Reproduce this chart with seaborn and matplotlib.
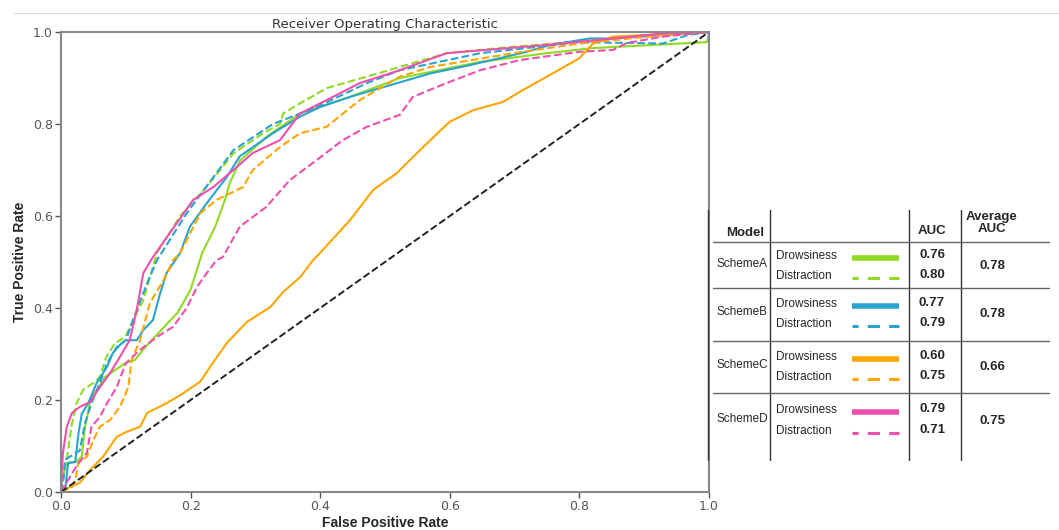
import numpy as np
import seaborn as sns
from matplotlib import pyplot as plt
from matplotlib.lines import Line2D

# ROC points (fpr, tpr)
a_drow_fpr = [0, 0.001, 0.009, 0.024, 0.032, 0.037, 0.04, 0.045, 0.068, 0.099, 0.114, 0.13, 0.16, 0.18, 0.20, 0.218, 0.238, 0.253, 0.26, 0.276, 0.317, 0.369, 0.446, 0.523, 0.647, 0.75, 0.82, 0.997, 1.0]
a_drow_tpr = [0, 0.026, 0.063, 0.066, 0.077, 0.142, 0.16, 0.2, 0.25, 0.28, 0.287, 0.315, 0.36, 0.39, 0.44, 0.52, 0.577, 0.635, 0.67, 0.72, 0.772, 0.823, 0.859, 0.90, 0.935, 0.954, 0.965, 0.978, 1.0]
a_dist_fpr = [0, 0.002, 0.009, 0.016, 0.024, 0.034, 0.05, 0.06, 0.07, 0.083, 0.099, 0.111, 0.127, 0.142, 0.148, 0.184, 0.225, 0.266, 0.312, 0.338, 0.343, 0.369, 0.41, 0.472, 0.523, 0.595, 0.698, 0.85, 0.944, 1.0]
a_dist_tpr = [0, 0.02, 0.07, 0.142, 0.193, 0.222, 0.237, 0.25, 0.294, 0.323, 0.337, 0.373, 0.417, 0.49, 0.52, 0.60, 0.664, 0.736, 0.78, 0.80, 0.823, 0.845, 0.878, 0.903, 0.924, 0.954, 0.968, 0.985, 0.997, 1.0]
b_drow_fpr = [0, 0.006, 0.011, 0.022, 0.027, 0.032, 0.042, 0.055, 0.071, 0.08, 0.091, 0.10, 0.117, 0.127, 0.142, 0.153, 0.163, 0.184, 0.199, 0.225, 0.256, 0.276, 0.327, 0.369, 0.40, 0.446, 0.497, 0.57, 0.631, 0.719, 0.755, 0.816, 0.852, 1.0]
b_drow_tpr = [0, 0.0, 0.063, 0.065, 0.128, 0.17, 0.193, 0.237, 0.272, 0.302, 0.32, 0.33, 0.33, 0.352, 0.374, 0.432, 0.476, 0.52, 0.577, 0.628, 0.685, 0.73, 0.78, 0.816, 0.837, 0.859, 0.88, 0.91, 0.928, 0.957, 0.972, 0.986, 0.986, 1.0]
b_dist_fpr = [0, 0.004, 0.006, 0.014, 0.029, 0.037, 0.047, 0.06, 0.071, 0.086, 0.10, 0.117, 0.133, 0.148, 0.194, 0.266, 0.327, 0.395, 0.472, 0.523, 0.647, 0.80, 0.929, 0.966, 1.0]
b_dist_tpr = [0, 0.03, 0.07, 0.077, 0.09, 0.149, 0.193, 0.237, 0.28, 0.315, 0.33, 0.396, 0.454, 0.504, 0.606, 0.743, 0.80, 0.837, 0.889, 0.917, 0.954, 0.978, 0.975, 0.993, 1.0]
c_drow_fpr = [0, 0.014, 0.029, 0.045, 0.065, 0.086, 0.10, 0.122, 0.133, 0.163, 0.189, 0.215, 0.23, 0.256, 0.287, 0.323, 0.343, 0.369, 0.389, 0.40, 0.446, 0.482, 0.518, 0.543, 0.57, 0.60, 0.636, 0.682, 0.713, 0.75, 0.80, 0.821, 0.852, 1.0]
c_drow_tpr = [0, 0.011, 0.02, 0.048, 0.077, 0.12, 0.13, 0.142, 0.172, 0.193, 0.215, 0.24, 0.272, 0.324, 0.37, 0.402, 0.435, 0.467, 0.504, 0.52, 0.591, 0.657, 0.693, 0.728, 0.765, 0.805, 0.83, 0.848, 0.874, 0.903, 0.943, 0.975, 0.99, 1.0]
c_dist_fpr = [0, 0.017, 0.022, 0.027, 0.04, 0.05, 0.06, 0.076, 0.091, 0.104, 0.109, 0.122, 0.137, 0.158, 0.173, 0.184, 0.215, 0.24, 0.281, 0.296, 0.338, 0.369, 0.41, 0.461, 0.523, 0.57, 0.698, 0.80, 0.929, 1.0]
c_dist_tpr = [0, 0.011, 0.026, 0.063, 0.077, 0.113, 0.142, 0.157, 0.185, 0.228, 0.287, 0.33, 0.41, 0.46, 0.504, 0.52, 0.606, 0.635, 0.663, 0.70, 0.75, 0.78, 0.794, 0.852, 0.903, 0.924, 0.954, 0.975, 0.993, 1.0]
d_drow_fpr = [0, 0.001, 0.003, 0.009, 0.017, 0.029, 0.045, 0.06, 0.076, 0.091, 0.106, 0.117, 0.127, 0.142, 0.168, 0.204, 0.235, 0.266, 0.296, 0.338, 0.369, 0.41, 0.461, 0.523, 0.595, 0.75, 0.852, 0.929, 1.0]
d_drow_tpr = [0, 0.04, 0.085, 0.142, 0.172, 0.185, 0.196, 0.228, 0.259, 0.294, 0.33, 0.396, 0.476, 0.511, 0.563, 0.635, 0.663, 0.70, 0.737, 0.765, 0.823, 0.852, 0.889, 0.917, 0.954, 0.972, 0.986, 0.997, 1.0]
d_dist_fpr = [0, 0.017, 0.027, 0.04, 0.047, 0.06, 0.071, 0.086, 0.10, 0.122, 0.148, 0.173, 0.194, 0.21, 0.225, 0.24, 0.25, 0.276, 0.317, 0.353, 0.395, 0.435, 0.472, 0.523, 0.543, 0.595, 0.647, 0.708, 0.80, 0.852, 0.873, 0.929, 1.0]
d_dist_tpr = [0, 0.04, 0.063, 0.085, 0.142, 0.163, 0.193, 0.228, 0.28, 0.309, 0.337, 0.359, 0.40, 0.446, 0.476, 0.504, 0.511, 0.577, 0.62, 0.678, 0.722, 0.765, 0.794, 0.82, 0.859, 0.889, 0.917, 0.939, 0.957, 0.961, 0.976, 0.99, 1.0]

schemes = ["SchemeA", "SchemeB", "SchemeC", "SchemeD"]
tasks = ["Drowsiness", "Distraction"]
auc = [[0.76, 0.80], [0.77, 0.79], [0.60, 0.75], [0.79, 0.71]]
avg_auc = [0.78, 0.78, 0.66, 0.75]
colors = ["#8fda22", "#29a4cf", "#ffa500", "#ef4fae"]

curves = [
    [(a_drow_fpr, a_drow_tpr), (a_dist_fpr, a_dist_tpr)],
    [(b_drow_fpr, b_drow_tpr), (b_dist_fpr, b_dist_tpr)],
    [(c_drow_fpr, c_drow_tpr), (c_dist_fpr, c_dist_tpr)],
    [(d_drow_fpr, d_drow_tpr), (d_dist_fpr, d_dist_tpr)],
]

sns.set_style("white")
fig = plt.figure(figsize=(10.59, 5.30), dpi=100)
ax = fig.add_axes([0.0576, 0.0717, 0.6119, 0.8679])

for i in range(4):
    for j, (fx, ty) in enumerate(curves[i]):
        sns.lineplot(x=fx, y=ty, ax=ax, color=colors[i], lw=1.5,
                     linestyle="-" if j == 0 else "--",
                     estimator=None, sort=False)
sns.lineplot(x=[0, 1], y=[0, 1], ax=ax, color="#222222", lw=1.4,
             linestyle="--", estimator=None, sort=False)

ax.set_xlim(0, 1)
ax.set_ylim(0, 1)
ax.set_xticks([0, 0.2, 0.4, 0.6, 0.8, 1.0])
ax.set_yticks([0, 0.2, 0.4, 0.6, 0.8, 1.0])
ax.tick_params(axis="both", labelsize=9, colors="#555555", length=4,
               width=1, direction="out", bottom=True, left=True, pad=2)
for s in ax.spines.values():
    s.set_color("#888888")
    s.set_linewidth(1.5)

ax.set_title("Receiver Operating Characteristic", fontsize=9.5, color="#333333", pad=3)
ax.set_xlabel("False Positive Rate", fontsize=10, fontweight="bold",
              family="Liberation Sans")
ax.set_ylabel("True Positive Rate", fontsize=10, fontweight="bold",
              family="Liberation Sans")
ax.xaxis.set_label_coords(0.5, -0.052)
ax.yaxis.set_label_coords(-0.052, 0.5)

# thin grey rule at the top of the figure
fig.add_artist(Line2D([14 / 1059, 1], [1 - 13 / 530] * 2, color="#dddddd", lw=1))

# table-like legend on the right
W, H = 1059, 530
def fx(px):
    return px / W
def fy(py):
    return 1 - py / H

reg = "Liberation Sans"

for x in [708, 770, 909, 961]:
    fig.add_artist(Line2D([fx(x)] * 2, [fy(210), fy(460)], color="#333333", lw=1))
for y in [242, 288, 341, 393]:
    fig.add_artist(Line2D([fx(713), fx(1049)], [fy(y)] * 2, color="#666666", lw=1))

fig.text(fx(745), fy(233), "Model", ha="center", va="center", fontsize=9.5,
         fontweight="bold", family=reg)
fig.text(fx(932), fy(231), "AUC", ha="center", va="center", fontsize=9.5,
         fontweight="bold", family=reg)
fig.text(fx(992), fy(223), "Average\nAUC", ha="center", va="center", fontsize=9.5,
         fontweight="bold", family=reg, linespacing=1.0)

row_y = [(256, 276), (304, 324), (357, 377), (410, 431)]
for i, s in enumerate(schemes):
    y1, y2 = row_y[i]
    fig.text(fx(742), fy((y1 + y2) / 2 - 2), s, ha="center", va="center",
             fontsize=8.5, family=reg)
    for j, t in enumerate(tasks):
        yy = (y1, y2)[j]
        fig.text(fx(776), fy(yy), t, ha="left", va="center", fontsize=8.5, family=reg)
        fig.add_artist(Line2D([fx(852), fx(899)], [fy(yy + 2)] * 2, color=colors[i],
                              lw=4 if j == 0 else 2.2, solid_capstyle="butt",
                              dash_capstyle="butt",
                              linestyle="-" if j == 0 else (2, (4, 3))))
        fig.text(fx(932), fy(yy - 1), f"{auc[i][j]:.2f}", ha="center", va="center",
                 fontsize=9.5, fontweight="bold", family=reg)
    fig.text(fx(992), fy((y1 + y2) / 2), f"{avg_auc[i]:.2f}", ha="center", va="center",
             fontsize=9.5, fontweight="bold", family=reg)

plt.savefig("out.png", dpi=100)
